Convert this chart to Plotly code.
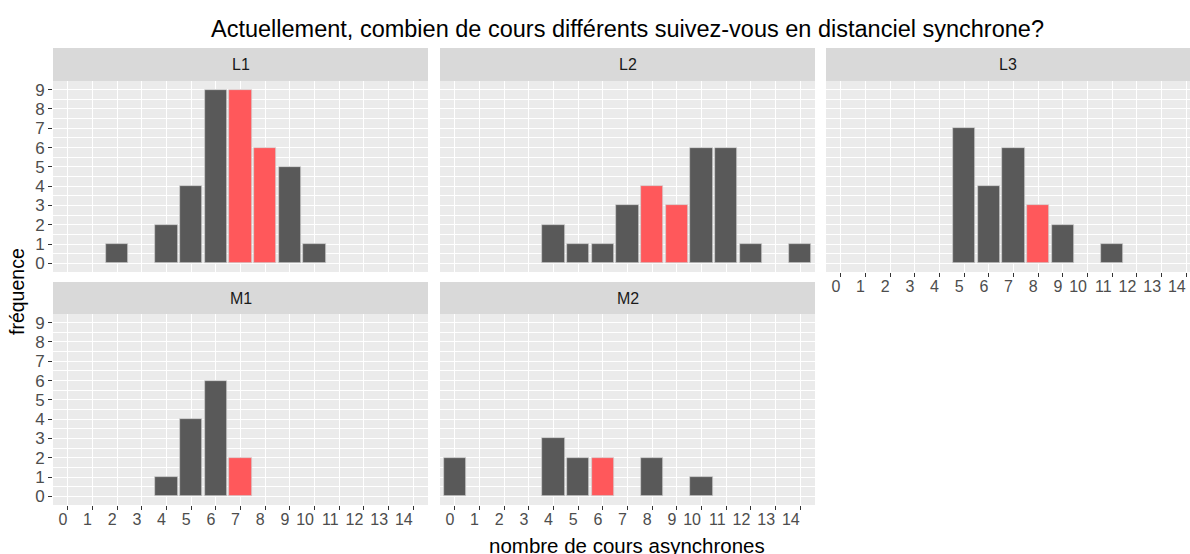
import plotly.graph_objects as go

# données : nombre de cours asynchrones -> fréquence
panels = ["L1", "L2", "L3", "M1", "M2"]

l1_x = [2, 4, 5, 6, 7, 8, 9, 10]
l1_y = [1, 2, 4, 9, 9, 6, 5, 1]
l1_hl = [7, 8]

l2_x = [4, 5, 6, 7, 8, 9, 10, 11, 12, 14]
l2_y = [2, 1, 1, 3, 4, 3, 6, 6, 1, 1]
l2_hl = [8, 9]

l3_x = [5, 6, 7, 8, 9, 11]
l3_y = [7, 4, 6, 3, 2, 1]
l3_hl = [8]

m1_x = [4, 5, 6, 7]
m1_y = [1, 4, 6, 2]
m1_hl = [7]

m2_x = [0, 4, 5, 6, 8, 10]
m2_y = [2, 3, 2, 2, 2, 1]
m2_hl = [6]

x_ticks = list(range(0, 15))
y_ticks = list(range(0, 10))

title = "Actuellement, combien de cours différents suivez-vous en distanciel synchrone?"
x_title = "nombre de cours asynchrones"
y_title = "fréquence"

DARK = "#595959"
RED = "#FF585B"
BG = "#EBEBEB"
STRIP = "#D9D9D9"
FONT = "Liberation Sans, Arial, sans-serif"

W, H = 1190, 554


def px_x(p):
    return p / W


def px_y(p):
    return 1 - p / H


# position des panneaux en pixels : (x0, x1, y_top, y_bottom, strip_top)
layout_px = {
    "L1": (53, 428, 81, 272, 48),
    "L2": (440, 815, 81, 272, 48),
    "L3": (826, 1190, 81, 272, 48),
    "M1": (53, 428, 314, 505, 282),
    "M2": (440, 815, 314, 505, 282),
}

data = {
    "L1": (l1_x, l1_y, l1_hl),
    "L2": (l2_x, l2_y, l2_hl),
    "L3": (l3_x, l3_y, l3_hl),
    "M1": (m1_x, m1_y, m1_hl),
    "M2": (m2_x, m2_y, m2_hl),
}

show_x = {"L1": False, "L2": False, "L3": True, "M1": True, "M2": True}
show_y = {"L1": True, "L2": False, "L3": False, "M1": True, "M2": False}

fig = go.Figure()
unit = (428 - 53) / 15.2  # pixels par unité sur l'axe x

for i, name in enumerate(panels, start=1):
    xs, ys, hl = data[name]
    x0, x1, yt, yb, st = layout_px[name]
    colors = [RED if x in hl else DARK for x in xs]
    fig.add_trace(
        go.Bar(
            x=xs,
            y=ys,
            width=0.9,
            marker=dict(color=colors, line=dict(color="#D0D0D0", width=0.7)),
            showlegend=False,
            xaxis=f"x{i}",
            yaxis=f"y{i}",
            hovertemplate="%{x}: %{y}<extra>" + name + "</extra>",
        )
    )
    x_lo = -0.6
    x_hi = x_lo + (x1 - x0) / unit
    sfx = "" if i == 1 else str(i)
    fig.layout[f"xaxis{sfx}"] = dict(
        domain=[px_x(x0), px_x(x1)],
        range=[x_lo, x_hi],
        anchor=f"y{i}",
        tickvals=x_ticks,
        tickangle=0,
        # libellés alignés à droite sur la graduation, comme dans l'original
        ticklabelposition="outside left",
        ticklabeloverflow="allow",
        showticklabels=show_x[name],
        ticks="outside" if show_x[name] else "",
        ticklen=4,
        tickwidth=1,
        tickcolor="#333333",
        tickfont=dict(size=16, color="#4D4D4D", family=FONT),
        showgrid=True,
        gridcolor="white",
        gridwidth=1.1,
        zeroline=False,
        showline=False,
        fixedrange=True,
    )
    fig.layout[f"yaxis{sfx}"] = dict(
        domain=[px_y(yb), px_y(yt)],
        range=[-0.45, 9.45],
        anchor=f"x{i}",
        tickvals=y_ticks,
        showticklabels=show_y[name],
        ticks="outside" if show_y[name] else "",
        ticklen=4,
        tickwidth=1,
        tickcolor="#333333",
        tickfont=dict(size=17, color="#4D4D4D", family=FONT),
        showgrid=True,
        gridcolor="white",
        gridwidth=1.1,
        minor=dict(dtick=0.5, tick0=0, showgrid=True, gridcolor="white", gridwidth=0.55),
        zeroline=False,
        showline=False,
        fixedrange=True,
    )
    # fond du panneau
    fig.add_shape(
        type="rect", xref="paper", yref="paper",
        x0=px_x(x0), x1=px_x(x1), y0=px_y(yb), y1=px_y(yt),
        fillcolor=BG, line=dict(width=0), layer="below",
    )
    # bandeau du titre de facette
    fig.add_shape(
        type="rect", xref="paper", yref="paper",
        x0=px_x(x0), x1=px_x(x1), y0=px_y(yt), y1=px_y(st),
        fillcolor=STRIP, line=dict(width=0), layer="below",
    )
    fig.add_annotation(
        text=name, xref="paper", yref="paper",
        x=px_x((x0 + x1) / 2), y=px_y((yt + st) / 2),
        xanchor="center", yanchor="middle", showarrow=False,
        font=dict(size=16, color="#1A1A1A", family=FONT),
    )

fig.add_annotation(
    text=title, xref="paper", yref="paper",
    x=px_x(627), y=px_y(29), xanchor="center", yanchor="middle",
    showarrow=False, font=dict(size=23.5, color="black", family=FONT),
)
fig.add_annotation(
    text=x_title, xref="paper", yref="paper",
    x=px_x(627), y=px_y(545), xanchor="center", yanchor="middle",
    showarrow=False, font=dict(size=20.5, color="black", family=FONT),
)
fig.add_annotation(
    text=y_title, xref="paper", yref="paper",
    x=px_x(17), y=px_y(292), xanchor="center", yanchor="middle",
    textangle=-90, showarrow=False,
    font=dict(size=19.5, color="black", family=FONT),
)

fig.update_layout(
    width=W,
    height=H,
    margin=dict(l=0, r=0, t=0, b=0),
    paper_bgcolor="white",
    plot_bgcolor="rgba(0,0,0,0)",
    bargap=0,
    font=dict(family=FONT),
)

# page sans marge
page_js = (
    "document.body.style.margin='0';"
    "document.body.style.overflow='hidden';"
)

fig.write_html("out.html", config={"displayModeBar": False}, post_script=page_js)
